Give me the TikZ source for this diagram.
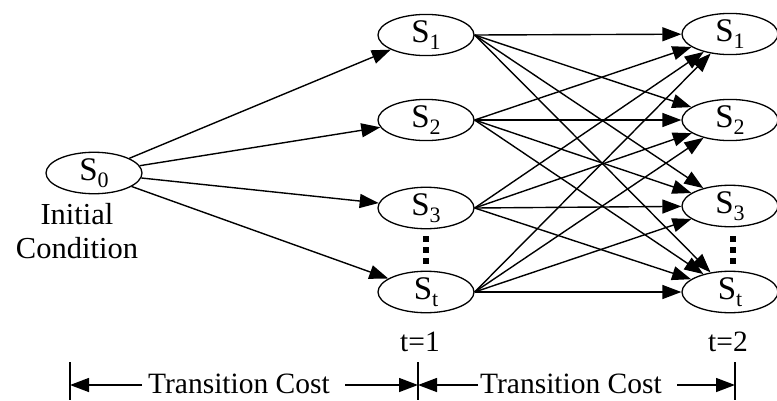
\documentclass[tikz,border=0pt]{standalone}
\usepackage{fontspec}
\setmainfont{Liberation Serif}
\usetikzlibrary{shapes.geometric,arrows.meta}
\newcommand\StateLbl[1]{S\raisebox{-0.22em}{\fontsize{22}{22}\selectfont #1}}
\tikzset{
  st/.style={ellipse,draw,line width=1.3pt,minimum width=96pt,minimum height=34pt,inner sep=0pt,font=\fontsize{33}{33}\selectfont},
  lbl/.style={font=\fontsize{29.5}{32}\selectfont,inner sep=0pt},
  arr/.style={line width=1.4pt,-{Triangle[length=19pt,width=14pt]}},
  tick/.style={line width=1.4pt},
}
\begin{document}
\begin{tikzpicture}[x=1pt,y=-1pt]
\useasboundingbox (0,0) rectangle (777,400);
% states
\node[st] (s0) at (94,173) {\StateLbl{0}};
\node[st] (a1) at (426,35) {\StateLbl{1}};
\node[st] (a2) at (426,120) {\StateLbl{2}};
\node[st] (a3) at (426,208) {\StateLbl{3}};
\node[st] (at) at (426,292) {\StateLbl{t}};
\node[st] (b1) at (730,34) {\StateLbl{1}};
\node[st] (b2) at (730,120) {\StateLbl{2}};
\node[st] (b3) at (730,206) {\StateLbl{3}};
\node[st] (bt) at (730,292) {\StateLbl{t}};
% dots
\foreach \xx in {426,733}{
  \fill (\xx-3,236) rectangle (\xx+3,242);
  \fill (\xx-3,247) rectangle (\xx+3,253);
  \fill (\xx-3,258) rectangle (\xx+3,264);
}
% labels
\node[lbl,align=center,font=\fontsize{30.5}{33}\selectfont] (ic) at (77,231) {Initial\\[1pt]Condition};
\node[lbl] (t1) at (420,342) {t=1};
\node[lbl] (t2) at (728,342) {t=2};
% edges from S0
\foreach \n in {a1,a2,a3,at}{\draw[arr] (s0) -- (\n);}
% full mesh
\foreach \p in {a1,a2,a3,at}{
  \foreach \q in {b1,b2,b3,bt}{\draw[arr] (\p.east) -- (\q);}
}
% bottom brackets
\coordinate (k1t) at (70,362); \coordinate (k1b) at (70,400);
\coordinate (k2t) at (418,362); \coordinate (k2b) at (418,400);
\coordinate (k3t) at (735,362); \coordinate (k3b) at (735,400);
\draw[tick] (k1t) -- (k1b);
\draw[tick] (k2t) -- (k2b);
\draw[tick] (k3t) -- (k3b);
\node[lbl] (c1) at (239,384) {Transition Cost};
\node[lbl] (c2) at (571,384) {Transition Cost};
\coordinate (k1m) at (70,385);
\coordinate (k2m) at (418,385);
\coordinate (k3m) at (735,385);
\coordinate (e1) at (142,385);
\coordinate (e2) at (345,385);
\coordinate (e3) at (478,385);
\coordinate (e4) at (677,385);
\draw[arr] (e1) -- (k1m);
\draw[arr] (e2) -- (k2m);
\draw[arr] (e3) -- (k2m);
\draw[arr] (e4) -- (k3m);
\end{tikzpicture}
\end{document}
